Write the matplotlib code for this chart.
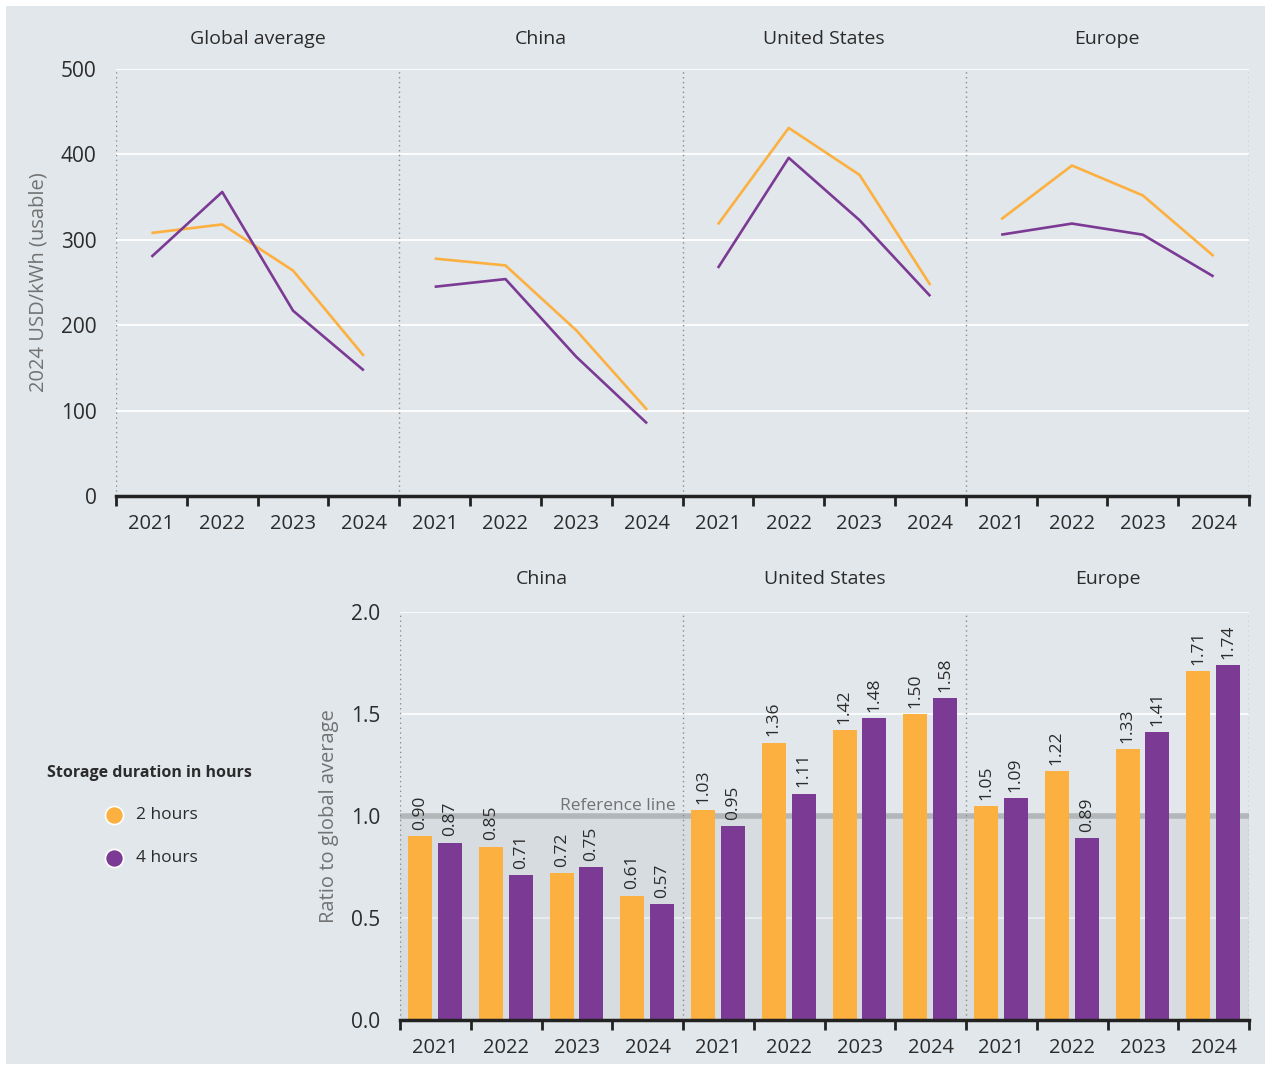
import matplotlib
matplotlib.use("Agg")
import matplotlib.pyplot as plt
from matplotlib.patches import Rectangle
from matplotlib.lines import Line2D

plt.rcParams['font.family'] = ['Open Sans', 'DejaVu Sans']

years = ["2021", "2022", "2023", "2024"]
top_regions = ["Global average", "China", "United States", "Europe"]
cost_2h = {
    "Global average": [308, 318, 264, 164],
    "China": [278, 270, 194, 101],
    "United States": [318, 431, 376, 247],
    "Europe": [324, 387, 352, 281],
}
cost_4h = {
    "Global average": [280, 356, 217, 147],
    "China": [245, 254, 163, 85],
    "United States": [267, 396, 323, 234],
    "Europe": [306, 319, 306, 257],
}
bottom_regions = ["China", "United States", "Europe"]
ratio_2h = {
    "China": [0.90, 0.85, 0.72, 0.61],
    "United States": [1.03, 1.36, 1.42, 1.50],
    "Europe": [1.05, 1.22, 1.33, 1.71],
}
ratio_4h = {
    "China": [0.87, 0.71, 0.75, 0.57],
    "United States": [0.95, 1.11, 1.48, 1.58],
    "Europe": [1.09, 0.89, 1.41, 1.74],
}

ORANGE = "#FBB040"
PURPLE = "#7B3A94"
BG = "#E2E7EB"
TXT = "#2b2b2b"
GRAYTXT = "#727272"

W, H = 1271, 1068
fig = plt.figure(figsize=(W / 100, H / 100), dpi=100, facecolor="white")
bgrect = Rectangle((6 / W, 4 / H), 1 - 12 / W, 1 - 10 / H,
                   transform=fig.transFigure, facecolor=BG,
                   edgecolor="none", zorder=-10)
fig.add_artist(bgrect)

def fx(px):
    return px / W

def fy(py):
    return 1 - py / H

# ---------------- Top chart ----------------
ax1 = fig.add_axes([fx(116), fy(496), fx(1249) - fx(116), fy(69) - fy(496)])
ax1.set_facecolor("none")
n = len(years)
for r, reg in enumerate(top_regions):
    xs = [r * n + i + 0.5 for i in range(n)]
    ax1.plot(xs, cost_2h[reg], color=ORANGE, lw=1.9, zorder=3, solid_capstyle="butt")
    ax1.plot(xs, cost_4h[reg], color=PURPLE, lw=1.9, zorder=3, solid_capstyle="butt")
    ax1.text(r * n + n / 2, 535, reg, ha="center", va="center", fontsize=14, color=TXT)
ax1.set_xlim(0, n * len(top_regions))
ax1.set_ylim(0, 500)
ax1.set_yticks([0, 100, 200, 300, 400, 500])
for y in [100, 200, 300, 400, 500]:
    ax1.axhline(y, color="white", lw=1.3, zorder=1)
for b in range(len(top_regions) + 1):
    ax1.axvline(b * n, color="#8a8a8a", lw=1, ls=(0, (1, 2.5)), zorder=2)
ax1.set_xticks(range(0, n * len(top_regions) + 1))
ax1.set_xticks([k + 0.5 for k in range(n * len(top_regions))], minor=True)
ax1.set_xticklabels([])
ax1.set_xticklabels(years * len(top_regions), minor=True)
ax1.tick_params(axis="x", which="major", length=7, width=2, color="#222222")
ax1.tick_params(axis="x", which="minor", length=0, pad=13, labelsize=14.5, labelcolor=TXT)
ax1.tick_params(axis="y", length=0, pad=14, labelsize=15, labelcolor=TXT)
for s in ["top", "right", "left"]:
    ax1.spines[s].set_visible(False)
ax1.spines["bottom"].set_linewidth(2.5)
ax1.spines["bottom"].set_color("#222222")
ax1.set_ylabel("2024 USD/kWh (usable)", fontsize=14.5, color=GRAYTXT, labelpad=9)

# ---------------- Bottom chart ----------------
ax2 = fig.add_axes([fx(400), fy(1020), fx(1249) - fx(400), fy(612) - fy(1020)])
ax2.set_facecolor("none")
nb = len(bottom_regions)
ax2.set_xlim(0, n * nb)
ax2.set_ylim(0, 2.0)
ax2.add_patch(Rectangle((0, 0), n * nb, 1.0, facecolor="#D7DCE0", edgecolor="none", zorder=0.5))
for y in [0.5, 1.5, 2.0]:
    ax2.axhline(y, color="white", lw=1.3, zorder=1, alpha=0.9 if y > 1 else 0.5)
ax2.axhline(1.0, color="#B3B7BA", lw=4, zorder=1.5)
ax2.text(3.9, 1.012, "Reference line", ha="right", va="bottom", fontsize=12.5, color=GRAYTXT, zorder=4)
bw = 0.34
for r, reg in enumerate(bottom_regions):
    for i in range(n):
        x0 = r * n + i
        v2 = ratio_2h[reg][i]
        v4 = ratio_4h[reg][i]
        ax2.bar(x0 + 0.285, v2, width=bw, color=ORANGE, zorder=3)
        ax2.bar(x0 + 0.705, v4, width=bw, color=PURPLE, zorder=3)
        ax2.text(x0 + 0.285, v2 + 0.03, f"{v2:.2f}", rotation=90, ha="center", va="bottom",
                 fontsize=12.5, color=TXT, zorder=4)
        ax2.text(x0 + 0.705, v4 + 0.03, f"{v4:.2f}", rotation=90, ha="center", va="bottom",
                 fontsize=12.5, color=TXT, zorder=4)
    ax2.text(r * n + n / 2, 2.16, reg, ha="center", va="center", fontsize=14, color=TXT)
for b in range(nb + 1):
    ax2.axvline(b * n, color="#8a8a8a", lw=1, ls=(0, (1, 2.5)), zorder=2)
ax2.set_yticks([0, 0.5, 1.0, 1.5, 2.0])
ax2.set_yticklabels(["0.0", "0.5", "1.0", "1.5", "2.0"])
ax2.set_xticks(range(0, n * nb + 1))
ax2.set_xticks([k + 0.5 for k in range(n * nb)], minor=True)
ax2.set_xticklabels([])
ax2.set_xticklabels(years * nb, minor=True)
ax2.tick_params(axis="x", which="major", length=7, width=2, color="#222222")
ax2.tick_params(axis="x", which="minor", length=0, pad=13, labelsize=14.5, labelcolor=TXT)
ax2.tick_params(axis="y", length=0, pad=14, labelsize=15, labelcolor=TXT)
for s in ["top", "right", "left"]:
    ax2.spines[s].set_visible(False)
ax2.spines["bottom"].set_linewidth(2.5)
ax2.spines["bottom"].set_color("#222222")
ax2.spines["bottom"].set_zorder(5)
ax2.set_ylabel("Ratio to global average", fontsize=14.5, color=GRAYTXT, labelpad=9)

# ---------------- Legend ----------------
fig.text(fx(47), fy(773), "Storage duration in hours", fontsize=11.5, fontweight="bold",
         color=TXT, va="center", ha="left")
for yy, col, lab in [(815, ORANGE, "2 hours"), (858, PURPLE, "4 hours")]:
    fig.add_artist(Line2D([fx(114)], [fy(yy)], marker="o", markersize=13,
                          markerfacecolor=col, markeredgecolor="white", markeredgewidth=1.2,
                          transform=fig.transFigure, linestyle="none"))
    fig.text(fx(136), fy(yy), lab, fontsize=12.5, color=TXT, va="center", ha="left")

fig.savefig("out.png", dpi=100, facecolor="white")
